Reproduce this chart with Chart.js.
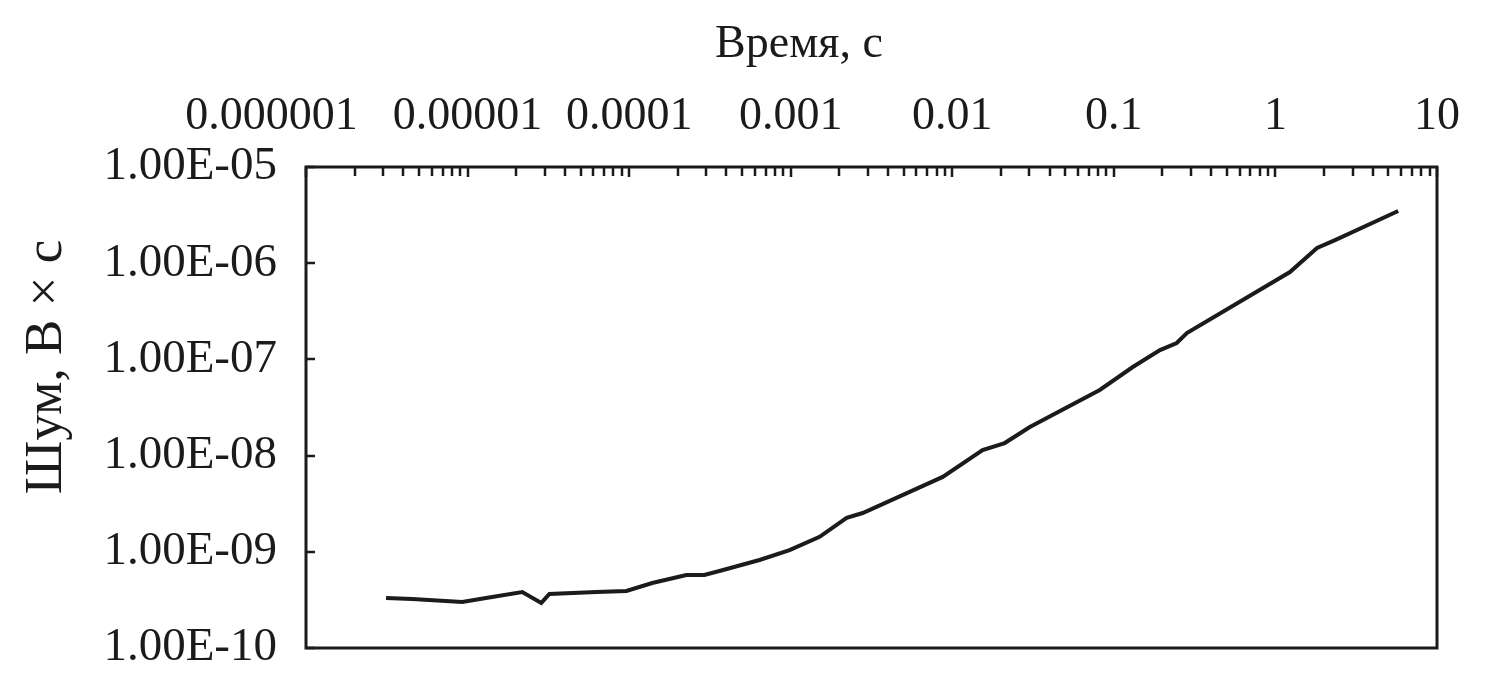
<!DOCTYPE html>
<html>
<head>
<meta charset="utf-8">
<script src="https://cdn.jsdelivr.net/npm/chart.js@4.4.1/dist/chart.umd.min.js"></script>
<style>
    html, body { margin: 0; padding: 0; background: #fff; }
    canvas { display: block; }
</style>
</head>
<body>
<canvas id="noise-chart" width="1485" height="694"></canvas>
<script>
// time, s
const timeValues = [
    3.13e-6, 4.54e-6, 9.26e-6, 1.30e-5, 2.18e-5, 2.86e-5, 3.21e-5, 6.27e-5, 9.62e-5,
    1.39e-4, 2.26e-4, 2.92e-4, 3.62e-4, 6.41e-4, 9.84e-4, 1.51e-3, 2.22e-3, 2.79e-3,
    8.73e-3, 1.54e-2, 2.11e-2, 3.02e-2, 8.18e-2, 0.131, 0.193, 0.245, 0.283,
    1.23, 1.81, 2.34, 5.75,
];
// noise, V*s
const noiseValues = [
    3.31e-10, 3.23e-10, 3.01e-10, 3.31e-10, 3.82e-10, 2.94e-10, 3.64e-10, 3.82e-10, 3.92e-10,
    4.74e-10, 5.74e-10, 5.74e-10, 6.31e-10, 8.22e-10, 1.04e-9, 1.43e-9, 2.25e-9, 2.53e-9,
    6.0e-9, 1.14e-8, 1.35e-8, 1.98e-8, 4.81e-8, 8.34e-8, 1.25e-7, 1.48e-7, 1.88e-7,
    8.1e-7, 1.44e-6, 1.74e-6, 3.49e-6,
];

const timeTicks = [1e-6, 1e-5, 1e-4, 1e-3, 1e-2, 1e-1, 1, 10];
const timeTickLabels = ['0.000001', '0.00001', '0.0001', '0.001', '0.01', '0.1', '1', '10'];
const noiseTicks = [1e-10, 1e-9, 1e-8, 1e-7, 1e-6, 1e-5];
const noiseTickLabels = ['1.00E-10', '1.00E-09', '1.00E-08', '1.00E-07', '1.00E-06', '1.00E-05'];

const serif = '"Liberation Serif", "Times New Roman", serif';
const ink = '#1b1b1b';

// frame, inward tick marks and axis titles
const excelFrame = {
    id: 'excelFrame',
    afterDatasetsDraw(chart) {
        const { ctx, chartArea: { left, right, top, bottom }, scales: { x, y } } = chart;
        ctx.save();
        ctx.strokeStyle = ink;
        ctx.lineWidth = 3;
        ctx.strokeRect(left, top, right - left, bottom - top);

        ctx.lineWidth = 2.5;
        ctx.beginPath();
        x.ticks.forEach((tick) => {
            const px = Math.round(x.getPixelForValue(tick.value));
            ctx.moveTo(px, top);
            ctx.lineTo(px, top + (tick.major ? 10 : 9));
        });
        y.ticks.forEach((tick) => {
            const py = Math.round(y.getPixelForValue(tick.value));
            ctx.moveTo(left, py);
            ctx.lineTo(left + 9, py);
        });
        ctx.stroke();

        ctx.fillStyle = ink;
        ctx.textAlign = 'center';
        ctx.textBaseline = 'middle';
        ctx.font = '46px ' + serif;
        ctx.fillText('Время, с', 799, 45);

        ctx.translate(47, 367);
        ctx.rotate(-Math.PI / 2);
        ctx.font = '53px ' + serif;
        ctx.fillText('Шум, В × с', 0, 0);
        ctx.restore();
    },
};

new Chart(document.getElementById('noise-chart'), {
    type: 'line',
    data: {
        datasets: [
            {
                data: timeValues.map((t, i) => ({ x: t, y: noiseValues[i] })),
                borderColor: ink,
                borderWidth: 4,
                pointRadius: 0,
                tension: 0,
                fill: false,
            },
        ],
    },
    plugins: [excelFrame],
    options: {
        responsive: false,
        animation: false,
        devicePixelRatio: 1,
        layout: { padding: { left: 0, right: 48, top: 0, bottom: 46 } },
        plugins: {
            legend: { display: false },
            tooltip: { enabled: false },
        },
        scales: {
            x: {
                type: 'logarithmic',
                position: 'top',
                min: 1e-6,
                max: 10,
                afterBuildTicks(scale) {
                    const ticks = [];
                    timeTicks.forEach((d, i) => {
                        ticks.push({ value: d, major: true });
                        if (i < timeTicks.length - 1) {
                            for (let m = 2; m <= 9; m++) ticks.push({ value: d * m, major: false });
                        }
                    });
                    scale.ticks = ticks;
                },
                afterFit(scale) {
                    scale.height = 167;
                    scale.paddingLeft = 0;
                    scale.paddingRight = 0;
                },
                grid: { display: false, drawTicks: false },
                border: { display: false },
                ticks: {
                    autoSkip: false,
                    maxRotation: 0,
                    padding: 22,
                    color: ink,
                    font: { family: serif, size: 46 },
                    callback(value) {
                        const i = timeTicks.findIndex((d) => Math.abs(d - value) / d < 1e-6);
                        if (i < 0) return '';
                        // first label sits left of the axis corner, as in the original
                        return i === 0 ? timeTickLabels[i] + '\u2003\u2002' : timeTickLabels[i];
                    },
                },
            },
            y: {
                type: 'logarithmic',
                min: 1e-10,
                max: 1e-5,
                afterBuildTicks(scale) {
                    scale.ticks = noiseTicks.map((v) => ({ value: v, major: true }));
                },
                afterFit(scale) {
                    scale.width = 306;
                    scale.paddingTop = 0;
                    scale.paddingBottom = 0;
                },
                grid: { display: false, drawTicks: false },
                border: { display: false },
                ticks: {
                    autoSkip: false,
                    padding: 29,
                    color: ink,
                    font: { family: serif, size: 47 },
                    callback(value) {
                        const i = noiseTicks.findIndex((d) => Math.abs(d - value) / d < 1e-6);
                        return i >= 0 ? noiseTickLabels[i] : '';
                    },
                },
            },
        },
    },
});
</script>
</body>
</html>
